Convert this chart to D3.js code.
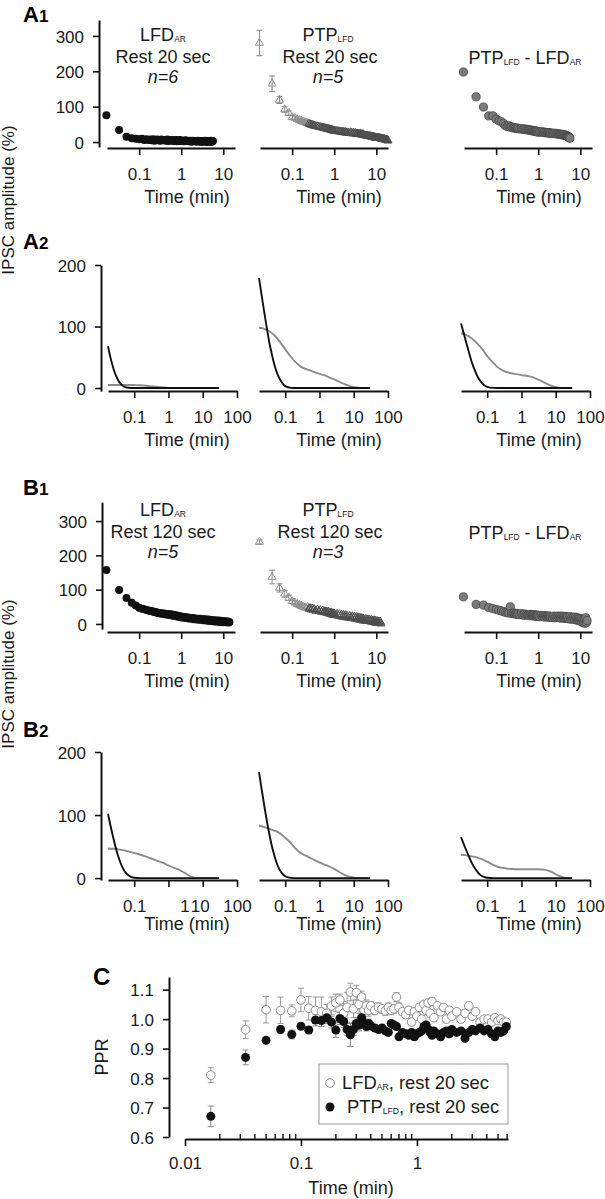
<!DOCTYPE html>
<html><head><meta charset="utf-8">
<script src="https://cdn.jsdelivr.net/npm/d3@7"></script>
<style>
body{margin:0;background:#fff}
text{font-family:"Liberation Sans",Arial,Helvetica,sans-serif}
</style>
</head><body>
<script>
// ================= DATA =================
// A1: rest 20 sec (times in seconds after the train, values in % IPSC amplitude)
const a1LfdSec = [1,2,3,4,5,6,7,8,9,10,11,12,13,14,15,16,17,18,19,20,
  22,24,26,28,30,32,34,36,38,40,42,44,46,48,50,52,54,56,58,60,
  65,70,75,80,85,90,95,100,105,110,115,120,
  130,140,150,160,170,180,190,200,210,220,230,240,250,260,270,280,290,300,310,320,330,340];
const a1LfdVal = [76,34,15,11,9,8,9,6,8,6,7,5,8,4,6,7,5,6,4,7,
  5,6,4,7,3,5,6,4,5,3,6,4,5,2,5,4,3,6,4,3,
  4,2,5,3,4,2,4,3,1,4,3,2,
  3,1,4,2,3,0,3,2,1,4,2,1,3,0,2,3,1,2,4,1,2,3];
const a1PtpSec = [1,2,3,4,5,6,7,8,9,10,11,12,13,14,15,16,17,18,19,20,
  22,24,26,28,30,32,34,36,38,40,42,44,46,48,50,52,54,56,58,60,
  65,70,75,80,85,90,95,100,105,110,115,120,
  130,140,150,160,170,180,190,200,210,220,230,240,250,260,270,280,290,300,
  320,340,360,380,400,420,440,460,480,500,520,540,560,580,600,
  630,660,690,720,750,780,810,840,870,900,930,960,990,1020,1050,1080,1110,1140];
const a1PtpVal = [280,165,119,92,82,70,68,64,62,59,57,56,54,53,52,50,49,48,47,46,
  45,44,43,42,41,41,40,39,38,38,37,36,36,35,35,34,33,33,32,32,
  31,31,30,30,29,29,28,28,27,28,26,27,
  26,25,27,24,26,24,25,23,24,22,23,22,23,21,22,21,22,20,
  19,18,18,17,17,16,16,15,15,14,14,13,13,12,12,
  12,12,11,11,10,10,9,9,9,8,8,7,7,6,6,5,5,4];
const a1PtpErr = [36,22,10,8,6,5,5,4,4,4,4,3];
const a1DiffSec = [1,2,3,4,5,6,7,8,9,10,11,12,13,14,15,16,17,18,19,20,
  22,24,26,28,30,32,34,36,38,40,42,44,46,48,50,52,54,56,58,60,
  65,70,75,80,85,90,95,100,105,110,115,120,
  130,140,150,160,170,180,190,200,210,220,230,240,250,260,270,280,290,300,310,320,330,340];
const a1DiffVal = [198,128,99,74,74,65,60,57,52,46,44,46,42,43,40,41,39,40,38,39,
  37,38,36,37,35,36,34,35,33,34,32,33,31,32,31,30,31,29,30,28,
  29,28,29,27,28,26,27,26,27,25,26,25,
  25,24,25,23,24,22,23,22,21,22,20,21,19,20,18,19,17,16,15,14,12,11];

// B1: rest 120 sec
const b1LfdSec = [1,2,3,4,5,6,7,8,9,10,11,12,13,14,15,16,17,18,19,20,
  22,24,26,28,30,32,34,36,38,40,42,44,46,48,50,52,54,56,58,60,
  65,70,75,80,85,90,95,100,105,110,115,120,
  130,140,150,160,170,180,190,200,210,220,230,240,250,260,270,280,290,300,
  320,340,360,380,400,420,440,460,480,500,520,540,560,580,600,
  630,660,690,720,750,780,810,840];
const b1LfdVal = [157,99,76,62,54,47,44,43,41,39,38,37,36,35,34,33,33,32,31,30,
  31,28,30,27,29,26,28,25,27,24,26,23,25,22,24,21,23,20,22,19,
  21,18,20,17,19,16,18,16,17,15,17,14,
  16,13,15,12,15,12,14,11,14,11,13,10,13,10,12,9,12,9,
  11,8,11,7,10,7,10,7,9,6,9,6,8,5,8,
  6,8,5,7,5,7,4,6];
const b1PtpSec = [1,2,3,4,5,6,7,8,9,10,11,12,13,14,15,16,17,18,19,20,
  22,24,26,28,30,32,34,36,38,40,42,44,46,48,50,52,54,56,58,60,
  65,70,75,80,85,90,95,100,105,110,115,120,
  130,140,150,160,170,180,190,200,210,220,230,240,250,260,270,280,290,300,
  320,340,360,380,400,420,440,460,480,500,520,540,560,580,600,
  630,660,690,720,750,780];
const b1PtpVal = [239,137,105,88,76,66,62,58,55,52,50,48,47,49,44,46,42,45,41,43,
  38,42,37,40,35,39,34,37,33,36,31,35,30,33,29,32,27,31,26,30,
  25,29,24,28,22,27,21,26,20,25,19,24,
  18,23,17,22,16,21,15,20,14,19,13,18,12,17,11,16,10,15,
  9,14,8,13,8,12,7,11,6,10,5,10,4,9,3,
  8,3,7,2,6,1];
const b1PtpErr = [6,20,12,10,8,7,6,6,5,5];
const b1DiffSec = [1,2,3,4,5,6,7,8,9,10,11,12,13,14,15,16,17,18,19,20,
  22,24,26,28,30,32,34,36,38,40,42,44,46,48,50,52,54,56,58,60,
  65,70,75,80,85,90,95,100,105,110,115,120,
  130,140,150,160,170,180,190,200,210,220,230,240,250,260,270,280,290,300,
  320,340,360,380,400,420,440,460,480,500,520,540,560,580,600,
  630,660,690,720,750,780,810,840,870];
const b1DiffVal = [79,57,55,48,45,42,40,38,36,34,33,32,50,31,30,32,29,31,28,30,
  27,30,26,29,25,28,26,27,24,28,25,26,23,27,24,25,22,26,23,24,
  21,25,22,24,20,24,21,23,20,23,19,22,
  19,23,18,22,19,23,18,22,17,23,18,21,17,22,16,21,17,20,
  15,21,14,20,15,19,13,20,12,18,11,17,10,16,9,
  14,5,12,3,15,2,18,4,10];

// A2 / B2: fitted fast (black) and slow (gray) components, time in min
const fastT = [0.0172,0.02,0.025,0.03,0.035,0.04,0.05,0.06,0.08,0.1,0.15,0.2,0.5,1,5,30];
const slowT = [0.0172,0.025,0.035,0.05,0.07,0.1,0.15,0.2,0.3,0.5,0.7,1,1.5,2,3,5,8,12,18,30];
const a2FastLfd  = [68,51,31,19,11.5,7,2.5,0.9,0.1,0,0,0,0,0,0,0];
const a2SlowLfd  = [5,5,5,5,5,4.8,4.5,4,3,1.8,1,0.3,0,0,0,0,0,0,0,0];
const a2FastPtp  = [179,155,120,93,72,57,35,22,9,3,0.3,0,0,0,0,0];
const a2SlowPtp  = [98,96,92,85,75,63,50,42,34,29,26,23,20,17,13,7,3,1,0,0];
const a2FastDiff = [105,92,72,56,43,34,21,13,5,2,0.2,0,0,0,0,0];
const a2SlowDiff = [89,86,81,73,64,52,41,34,28,24,22.5,21,19.5,18,14,8,3,0.5,0,0];
const b2FastLfd  = [102,85,62,45,33,24,13,7,2,0.5,0,0,0,0,0,0];
const b2SlowLfd  = [47,46.5,45.5,44,42,40,37,35,31.5,27,24,20,16,13.5,8,1.5,0,0,0,0];
const b2FastPtp  = [168,145,112,87,68,53,33,20,8,3,0.3,0,0,0,0,0];
const b2SlowPtp  = [83,81,78,75,71,64,55,47,39,33,29,25,21,18,13,6,2,0.3,0,0];
const b2FastDiff = [65,56,43,33,25,19,11,6,2,0.5,0,0,0,0,0,0];
const b2SlowDiff = [37,36,34.5,33,30,26,21,18,16,14.5,14,14,14,14,14,13,9,4,0.5,0];

// C: paired-pulse ratio, time in min
const cTime = [0.0167,0.0333,0.05,0.0667,0.0833,0.1,0.1167,0.1333,0.15,0.1667,0.1833,0.2,0.2167,0.2333,0.25,0.2667,0.2833,0.3,0.3167,0.3333,0.35,0.3667,0.3833,0.4,
  0.4333,0.4667,0.5,0.5333,0.5667,0.6,0.6333,0.6667,0.7,
  0.75,0.8,0.85,0.9,0.95,1.0,1.05,1.1,1.15,1.2,1.25,1.3,1.35,1.4,
  1.5,1.6,1.7,1.8,1.9,2.0, 2.2,2.4,2.6,2.8,3.0,3.2, 3.5,3.8,4.1,4.4,4.7,5.0,5.3,5.6,5.9];
const cLfd = [0.81,0.964,1.032,1.03,1.028,1.065,1.037,1.03,1.025,1.02,1.045,1.055,1.065,1.02,1.04,1.092,1.035,1.09,1.05,1.075,1.03,1.045,1.03,1.045,
  1.03,1.04,1.035,1.028,1.04,1.03,1.035,1.075,1.04,
  1.025,1.015,1.03,0.99,1.025,1.01,1.04,1.0,1.05,1.03,1.055,1.02,1.06,1.005,
  1.045,1.025,1.04,1.0,1.03,1.01, 1.025,1.0,1.02,1.045,1.01,1.025, 0.99,1.0,1.0,0.99,1.005,0.995,1.0,0.99,0.99];
const cLfdErr = [0.025,0.03,0.045,0.045,0.02,0.04,0.04,0.045,0.05,0.03,0.03,0.03,0.02,0.04,0.05,0.03,0.03,0.025,0.03,0.02,0.02,0.02,0.02,0.015,
  0.015,0.015,0.015,0.015,0.015,0.015,0.015,0.015,0.015,
  0.012,0.012,0.012,0.012,0.012,0.012,0.012,0.012,0.012,0.012,0.012,0.012,0.012,0.012,
  0.01,0.01,0.01,0.01,0.01,0.01, 0.01,0.01,0.01,0.012,0.01,0.01, 0.01,0.01,0.01,0.01,0.01,0.01,0.01,0.01,0.01];
const cPtp = [0.67,0.87,0.928,0.965,0.948,0.976,0.963,0.997,0.995,1.005,0.99,0.963,1.002,0.992,0.965,0.947,0.965,0.985,0.98,1.005,0.985,0.975,0.985,0.977,
  0.97,0.965,0.97,0.96,0.955,0.985,0.98,0.975,0.94,
  0.955,0.95,0.945,0.955,0.94,0.95,0.955,0.96,0.975,0.98,0.965,0.955,0.945,0.96,
  0.95,0.94,0.955,0.96,0.95,0.965, 0.955,0.96,0.935,0.955,0.965,0.96, 0.97,0.96,0.965,0.95,0.94,0.96,0.955,0.96,0.975];
const cPtpErr = [0.035,0.025,0.01,0.012,0.015,0.01,0.012,0.02,0.02,0.02,0.02,0.025,0.02,0.02,0.02,0.04,0.02,0.02,0.02,0.03,0.015,0.015,0.015,0.01,
  0.01,0.01,0.01,0.01,0.01,0.01,0.01,0.01,0.01,
  0.01,0.01,0.01,0.01,0.01,0.01,0.01,0.01,0.01,0.01,0.01,0.01,0.01,0.01,
  0.01,0.01,0.01,0.01,0.01,0.01, 0.01,0.01,0.01,0.01,0.01,0.01, 0.01,0.01,0.01,0.01,0.01,0.01,0.01,0.01,0.01];

const ampTicks = [0,100,200,300];
const fitTicks = [0,100,200];
const timeTicks1 = [0.1,1,10];
const timeTicks2 = [0.1,1,10,100];
const pprTicks = [0.6,0.7,0.8,0.9,1.0,1.1];
const cTimeTicks = [0.01,0.1,1];

// ================= DRAWING =================
const FS = 17, INK = "#1a1a1a";
const svg = d3.select("body").append("svg").attr("width",605).attr("height",1199);

function label(g, x, y, parts, o = {}) {
  const size = o.size || FS;
  const t = g.append("text").attr("x", x).attr("y", y).attr("font-size", size)
    .attr("text-anchor", o.anchor || "middle").attr("fill", o.fill || INK);
  if (o.italic) t.attr("font-style", "italic");
  if (o.weight) t.attr("font-weight", o.weight);
  if (o.rotate) t.attr("transform", `rotate(${o.rotate},${x},${y})`);
  let shifted = false;
  parts.forEach(p => {
    if (typeof p === "string") {
      const s = t.append("tspan").text(p);
      if (shifted) { s.attr("dy", -1); shifted = false; }
    } else if (p.sub) {
      t.append("tspan").text(p.sub).attr("font-size", size * 0.47).attr("dy", 1);
      shifted = true;
    } else if (p.big) {
      t.append("tspan").text(p.big).attr("font-size", p.size);
    }
  });
  return t;
}

function styleAxis(a) {
  a.select(".domain").attr("stroke", "#111").attr("stroke-width", 2);
  a.selectAll(".tick line").attr("stroke", "#111").attr("stroke-width", 1.6);
  a.selectAll(".tick text").attr("font-size", FS).attr("fill", INK)
    .attr("font-family", '"Liberation Sans",Arial,sans-serif');
}

function xAxis(scale, y, ticks, labelDx) {
  const a = svg.append("g").attr("transform", `translate(0,${y})`)
    .call(d3.axisBottom(scale).tickValues(ticks).tickFormat(d => String(d)).tickSize(7).tickSizeOuter(0));
  styleAxis(a);
  a.selectAll(".tick text").attr("dy", null).attr("y", 32)
    .attr("dx", d => (labelDx && labelDx[d]) ? labelDx[d] : 0);
  return a;
}
function yAxis(scale, x, ticks, fmt) {
  const a = svg.append("g").attr("transform", `translate(${x},0)`)
    .call(d3.axisLeft(scale).tickValues(ticks).tickFormat(fmt || (d => String(d))).tickSize(6).tickSizeOuter(0));
  styleAxis(a);
  a.selectAll(".tick text").attr("x", -15).attr("dy", "0.36em");
  return a;
}

// ---------- scatter rows (A1, B1) ----------
const rowX0 = [107, 260, 464];
const TS = 18;
function scatterRow(cfg) {
  const y = d3.scaleLinear().domain(cfg.ydom).range(cfg.yrange);
  yAxis(y, cfg.yAxisX, ampTicks);
  const xs = rowX0.map(x0 => d3.scaleLog().domain([0.0172, 19]).range([x0, x0 + 128]));
  xs.forEach((xs_, i) => {
    xAxis(xs_, cfg.axisY, timeTicks1);
    label(svg, [187, 339, 539][i], cfg.axisY + 55, ["Time (min)"], { size: 18 });
  });
  // panel 1 : LFD (black dots)
  svg.append("g").selectAll("circle").data(cfg.lfdSec.map((s, i) => [s / 60, cfg.lfdVal[i]])).join("circle")
    .attr("cx", d => xs[0](d[0])).attr("cy", d => y(d[1])).attr("r", 4).attr("fill", "#111");
  // panel 2 : PTP (open triangles + error bars)
  const ptp = cfg.ptpSec.map((s, i) => [s / 60, cfg.ptpVal[i], cfg.ptpErr[i]]);
  const g2 = svg.append("g").attr("stroke", "#8a8a8a").attr("stroke-width", 1);
  ptp.filter(d => d[2] !== undefined).forEach(d => {
    const cx = xs[1](d[0]);
    g2.append("line").attr("x1", cx).attr("x2", cx).attr("y1", y(d[1] - d[2])).attr("y2", y(d[1] + d[2]));
    g2.append("line").attr("x1", cx - 3).attr("x2", cx + 3).attr("y1", y(d[1] - d[2])).attr("y2", y(d[1] - d[2]));
    g2.append("line").attr("x1", cx - 3).attr("x2", cx + 3).attr("y1", y(d[1] + d[2])).attr("y2", y(d[1] + d[2]));
  });
  const tri = d3.symbol(d3.symbolTriangle, 28);
  svg.append("g").selectAll("path").data(ptp).join("path")
    .attr("d", tri).attr("transform", d => `translate(${xs[1](d[0])},${y(d[1])})`)
    .attr("fill", "none").attr("stroke", d => d[0] < 0.25 ? "#8f8f8f" : "#4d4d4d").attr("stroke-width", 1);
  // panel 3 : difference (gray dots)
  svg.append("g").selectAll("circle").data(cfg.diffSec.map((s, i) => [s / 60, cfg.diffVal[i]])).join("circle")
    .attr("cx", d => xs[2](d[0])).attr("cy", d => y(d[1])).attr("r", 4.1)
    .attr("fill", "#7b7b7b").attr("stroke", "#444").attr("stroke-width", 0.8);
  // titles
  const ty = cfg.titleY;
  label(svg, 163, ty, ["LFD", { sub: "AR" }], { size: TS });
  label(svg, 163, ty + 22, [cfg.rest], { size: TS });
  label(svg, 163, ty + 42, [cfg.n1], { size: TS, italic: true });
  label(svg, 328, ty, ["PTP", { sub: "LFD" }], { size: TS });
  label(svg, 330, ty + 22, [cfg.rest], { size: TS });
  label(svg, 328, ty + 42, [cfg.n2], { size: TS, italic: true });
  label(svg, 525, ty + 23, ["PTP", { sub: "LFD" }, " - LFD", { sub: "AR" }], { size: TS });
}

scatterRow({ ydom: [-14, 345], yrange: [147, 20], yAxisX: 99, axisY: 148, titleY: 41,
  lfdSec: a1LfdSec, lfdVal: a1LfdVal, ptpSec: a1PtpSec, ptpVal: a1PtpVal, ptpErr: a1PtpErr,
  diffSec: a1DiffSec, diffVal: a1DiffVal, rest: "Rest 20 sec", n1: "n=6", n2: "n=5" });
scatterRow({ ydom: [-15, 355], yrange: [629.1, 502.2], yAxisX: 102, axisY: 632, titleY: 516,
  lfdSec: b1LfdSec, lfdVal: b1LfdVal, ptpSec: b1PtpSec, ptpVal: b1PtpVal, ptpErr: b1PtpErr,
  diffSec: b1DiffSec, diffVal: b1DiffVal, rest: "Rest 120 sec", n1: "n=5", n2: "n=3" });

// ---------- fit rows (A2, B2) ----------
const fitX0 = [108, 259, 461];
function fitRow(cfg) {
  const y = d3.scaleLinear().domain(cfg.ydom).range(cfg.yrange);
  yAxis(y, 101, fitTicks);
  fitX0.forEach((x0, i) => {
    const x = d3.scaleLog().domain([0.0172, 100]).range([x0, x0 + 129]);
    xAxis(x, cfg.axisY, timeTicks2, i === 0 ? cfg.dx0 : null);
    label(svg, [187, 339, 539][i], cfg.axisY + cfg.tOff, ["Time (min)"], { size: 18 });
    const line = d3.line().x(d => x(d[0])).y(d => y(d[1])).curve(d3.curveMonotoneX);
    svg.append("path").datum(slowT.map((t, k) => [t, cfg.slow[i][k]])).attr("d", line)
      .attr("fill", "none").attr("stroke", "#8c8c8c").attr("stroke-width", 1.9);
    svg.append("path").datum(fastT.map((t, k) => [t, cfg.fast[i][k]])).attr("d", line)
      .attr("fill", "none").attr("stroke", "#111").attr("stroke-width", 1.9);
  });
}
fitRow({ ydom: [-5, 200], yrange: [391.1, 265], axisY: 391, tOff: 55,
  fast: [a2FastLfd, a2FastPtp, a2FastDiff], slow: [a2SlowLfd, a2SlowPtp, a2SlowDiff], dx0: null });
fitRow({ ydom: [-3, 200], yrange: [880, 752], axisY: 880, tOff: 50,
  fast: [b2FastLfd, b2FastPtp, b2FastDiff], slow: [b2SlowLfd, b2SlowPtp, b2SlowDiff], dx0: { 1: 16, 10: -3 } });

// ---------- panel labels & shared y titles ----------
label(svg, 23, 22, [{ big: "A", size: 22 }, { big: "1", size: 17 }], { anchor: "start", weight: "bold", fill: "#000" });
label(svg, 23, 249, [{ big: "A", size: 22 }, { big: "2", size: 17 }], { anchor: "start", weight: "bold", fill: "#000" });
label(svg, 23, 495, [{ big: "B", size: 22 }, { big: "1", size: 17 }], { anchor: "start", weight: "bold", fill: "#000" });
label(svg, 23, 737, [{ big: "B", size: 22 }, { big: "2", size: 17 }], { anchor: "start", weight: "bold", fill: "#000" });
label(svg, 93, 985, ["C"], { anchor: "start", weight: "bold", size: 24, fill: "#000" });
label(svg, 14, 200, ["IPSC amplitude (%)"], { rotate: -90, size: 17 });
label(svg, 14, 674, ["IPSC amplitude (%)"], { rotate: -90, size: 17 });

// ---------- panel C ----------
const xC = d3.scaleLog().domain([0.01, 6.1]).range([185, 508]);
const yC = d3.scaleLinear().domain([0.6, 1.143]).range([1137, 977]);
yAxis(yC, 169, pprTicks, d3.format(".1f"));
const axC = xAxis(xC, 1139, cTimeTicks);
axC.selectAll(".tick text").attr("y", 30);
const minor = xC.ticks().filter(t => !cTimeTicks.includes(t));
svg.append("g").selectAll("line").data(minor).join("line")
  .attr("x1", d => xC(d)).attr("x2", d => xC(d)).attr("y1", 1139).attr("y2", 1134)
  .attr("stroke", "#111").attr("stroke-width", 1.4);
label(svg, 351, 1194, ["Time (min)"], { size: 18 });
label(svg, 108, 1057, ["PPR"], { rotate: -90, size: 18 });

function errBars(vals, errs, color) {
  const g = svg.append("g").attr("stroke", color).attr("stroke-width", 1);
  cTime.forEach((t, i) => {
    const cx = xC(t), lo = yC(vals[i] - errs[i]), hi = yC(vals[i] + errs[i]);
    g.append("line").attr("x1", cx).attr("x2", cx).attr("y1", lo).attr("y2", hi);
    g.append("line").attr("x1", cx - 3).attr("x2", cx + 3).attr("y1", lo).attr("y2", lo);
    g.append("line").attr("x1", cx - 3).attr("x2", cx + 3).attr("y1", hi).attr("y2", hi);
  });
}
errBars(cLfd, cLfdErr, "#9a9a9a");
errBars(cPtp, cPtpErr, "#8a8a8a");
svg.append("g").selectAll("circle").data(cTime.map((t, i) => [t, cLfd[i]])).join("circle")
  .attr("cx", d => xC(d[0])).attr("cy", d => yC(d[1])).attr("r", 4.3)
  .attr("fill", "white").attr("stroke", "#8f8f8f").attr("stroke-width", 1);
svg.append("g").selectAll("circle").data(cTime.map((t, i) => [t, cPtp[i]])).join("circle")
  .attr("cx", d => xC(d[0])).attr("cy", d => yC(d[1])).attr("r", 4.5).attr("fill", "#111");

// legend
svg.append("rect").attr("x", 319).attr("y", 1064).attr("width", 189).attr("height", 60)
  .attr("fill", "white").attr("stroke", "#9a9a9a").attr("stroke-width", 1);
svg.append("circle").attr("cx", 330).attr("cy", 1083).attr("r", 4.3).attr("fill", "white").attr("stroke", "#8f8f8f");
svg.append("circle").attr("cx", 330).attr("cy", 1107).attr("r", 4.5).attr("fill", "#111");
label(svg, 342, 1089, ["LFD", { sub: "AR" }, ", rest 20 sec"], { anchor: "start", size: 18.4 });
label(svg, 347, 1113, ["PTP", { sub: "LFD" }, ", rest 20 sec"], { anchor: "start", size: 18.4 });
</script>
</body></html>
